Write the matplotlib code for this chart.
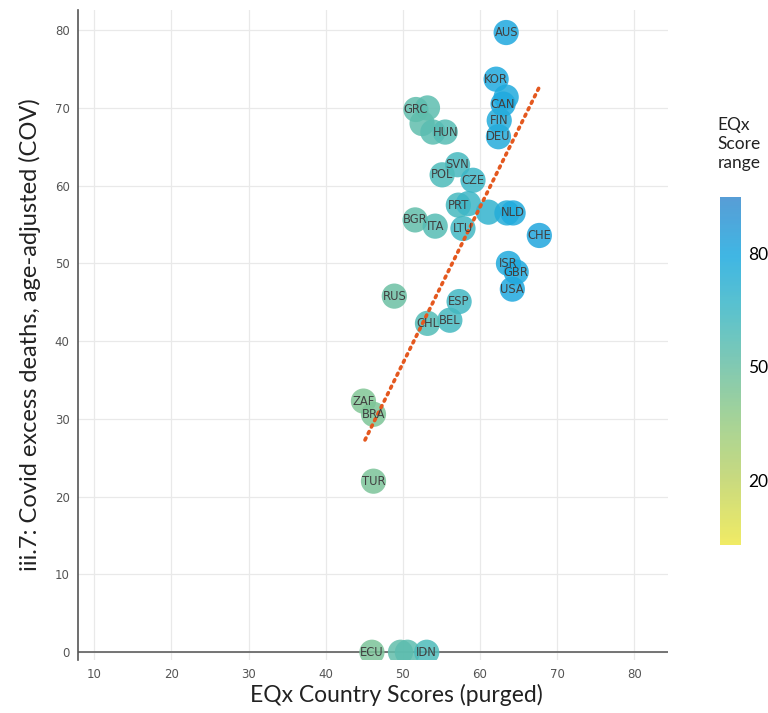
import matplotlib.pyplot as plt
import numpy as np
from matplotlib.colors import LinearSegmentedColormap

# %% data

countries = ["AUS", "KOR", "", "CAN", "FIN", "DEU",
             "GRC", "", "", "", "HUN",
             "SVN", "POL", "CZE", "PRT", "", "", "", "NLD",
             "BGR", "ITA", "LTU", "CHE",
             "ISR", "GBR", "USA", "RUS", "ESP", "BEL", "CHL",
             "ZAF", "BRA", "TUR", "ECU", "", "", "IDN"]
eqx_purged = [63.4, 62.1, 63.4, 63.0, 62.5, 62.4,
              51.7, 53.2, 52.5, 53.9, 55.5,
              57.1, 55.1, 59.1, 57.2, 58.5, 61.1, 63.5, 64.3,
              51.6, 54.2, 57.8, 67.7,
              63.7, 64.7, 64.2, 48.9, 57.3, 56.1, 53.2,
              44.9, 46.2, 46.2, 46.0, 49.7, 50.6, 53.1]
cov_deaths = [79.7, 73.7, 71.4, 70.5, 68.4, 66.3,
              69.8, 70.0, 68.0, 66.9, 66.9,
              62.7, 61.4, 60.7, 57.5, 57.7, 56.6, 56.5, 56.5,
              55.6, 54.8, 54.5, 53.6,
              50.0, 48.9, 46.7, 45.8, 45.1, 42.7, 42.3,
              32.3, 30.6, 22.0, 0.0, 0.0, 0.0, 0.0]
eqx_score = [80, 79, 78, 79, 77, 77,
             54, 55, 54, 56, 57,
             62, 60, 66, 62, 66, 70, 76, 78,
             53, 57, 64, 81,
             78, 79, 80, 50, 64, 63, 58,
             43, 44, 45, 45, 53, 55, 60]

trend_x = [45.1, 67.7]
trend_y = [27.3, 72.7]

xticks = [10, 20, 30, 40, 50, 60, 70, 80]
yticks = [0, 10, 20, 30, 40, 50, 60, 70, 80]
cbar_ticks = [20, 50, 80]

cmap = LinearSegmentedColormap.from_list(
    "eqx",
    [(0.0, "#eee84a"), (0.185, "#c0d468"), (0.35, "#98cc84"),
     (0.51, "#6cc0a4"), (0.67, "#40b8c4"), (0.83, "#1eaadf"),
     (1.0, "#3a8ccf")],
)
vmin, vmax = 3, 95


def plot_scores():
    fig = plt.figure(figsize=(7.68, 7.13), dpi=100)
    ax = fig.add_axes([0.1016, 0.0743, 0.7684, 0.9117])

    ax.grid(True, color="#e9e9e9", linewidth=0.9)
    ax.set_axisbelow(True)
    ax.axhline(0, color="#6a6a6a", linewidth=1.3, zorder=1)

    sc = ax.scatter(eqx_purged, cov_deaths, c=eqx_score, cmap=cmap,
                    vmin=vmin, vmax=vmax, s=330, alpha=0.85,
                    edgecolors="none", zorder=2)
    for name, x, y in zip(countries, eqx_purged, cov_deaths):
        if name:
            ax.text(x, y, name, ha="center", va="center", fontsize=8.3,
                    color="#404040", zorder=4)

    ax.plot(trend_x, trend_y, linestyle=(0, (0.6, 1.4)), linewidth=2.6,
            color="#e4581f", dash_capstyle="round", zorder=3)

    ax.set_xlim(7.9, 84.4)
    ax.set_ylim(-1.0, 82.6)
    ax.set_xticks(xticks)
    ax.set_yticks(yticks)
    ax.tick_params(length=0, labelsize=8.5, labelcolor="#555555", pad=6)
    for side in ["top", "right", "bottom"]:
        ax.spines[side].set_visible(False)
    ax.spines["left"].set_color("#555555")
    ax.spines["left"].set_linewidth(1.2)

    ax.set_xlabel("EQx Country Scores (purged)", fontsize=16.5,
                  family="Lato", color="#222222", va="top")
    ax.xaxis.set_label_coords(0.539, -0.036)
    ax.set_ylabel("iii.7: Covid excess deaths, age-adjusted (COV)",
                  fontsize=17, family="Lato", color="#222222", labelpad=10)

    cax = fig.add_axes([0.9375, 0.236, 0.0273, 0.488])
    cbar = fig.colorbar(sc, cax=cax)
    cbar.set_ticks(cbar_ticks)
    cbar.outline.set_visible(False)
    cbar.ax.tick_params(length=0, labelsize=12.5, pad=5)
    for t in cbar.ax.get_yticklabels():
        t.set_family("Lato")
    fig.text(0.934, 0.836, "EQx\nScore\nrange", fontsize=12.5, family="Lato",
             va="top", ha="left", color="#222222", linespacing=1.25)

    plt.savefig("out.png", dpi=100)


plot_scores()
